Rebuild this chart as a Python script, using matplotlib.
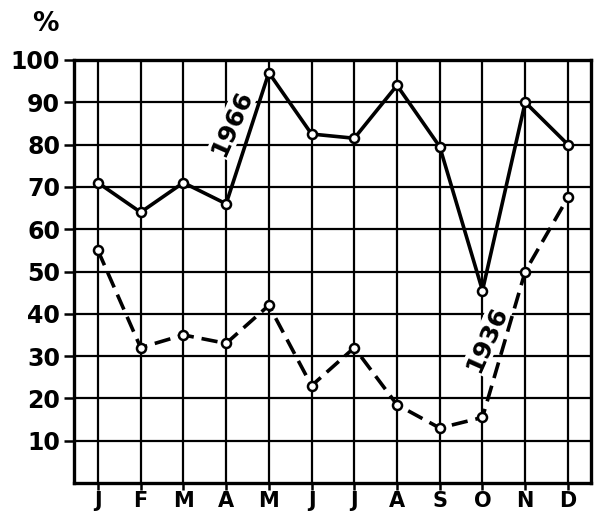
import matplotlib.pyplot as plt

months = ["J", "F", "M", "A", "M", "J", "J", "A", "S", "O", "N", "D"]
y1966 = [71, 64, 71, 66, 97, 82.5, 81.5, 94, 79.5, 45.5, 90, 80]
y1936 = [55, 32, 35, 33, 42, 23, 32, 18.5, 13, 15.5, 50, 67.5]
yticks = [10, 20, 30, 40, 50, 60, 70, 80, 90, 100]

plt.rcParams["font.family"] = "DejaVu Sans"
plt.rcParams["font.weight"] = "bold"

fig = plt.figure(figsize=(6.02, 5.14), dpi=100)
ax = fig.add_axes([74 / 602, 1 - 483 / 514, (591 - 74) / 602, (483 - 60) / 514])

x = list(range(len(months)))
ax.set_xlim(-0.56, 11.54)
ax.set_ylim(0, 100)

for xi in x:
    ax.axvline(xi, color="black", lw=1.6, zorder=1)
for yt in yticks[:-1]:
    ax.axhline(yt, color="black", lw=1.6, zorder=1)

mk = dict(marker="o", markersize=6.5, markerfacecolor="white",
          markeredgecolor="black", markeredgewidth=1.8, color="black", zorder=4)
ax.plot(x, y1966, lw=2.6, **mk)
ax.plot(x, y1936, lw=2.6, dashes=(4.5, 2.2), **mk)

box = dict(facecolor="white", edgecolor="none", pad=0.5)
ax.text(3.14, 85, "1966", rotation=66, fontsize=18, ha="center", va="center",
        bbox=box, zorder=3)
ax.text(9.1, 34, "1936", rotation=66, fontsize=18, ha="center", va="center",
        bbox=box, zorder=3)

ax.set_xticks(x, labels=months)
ax.set_yticks(yticks)
ax.tick_params(axis="y", length=7, width=1.8, labelsize=17, direction="out", pad=3)
ax.tick_params(axis="x", length=5, width=1.8, labelsize=15, direction="out", pad=1)
for s in ax.spines.values():
    s.set_linewidth(2.4)

fig.text(45 / 602, 1 - 24 / 514, "%", fontsize=19, ha="center", va="center")

fig.savefig("out.png", dpi=100)
